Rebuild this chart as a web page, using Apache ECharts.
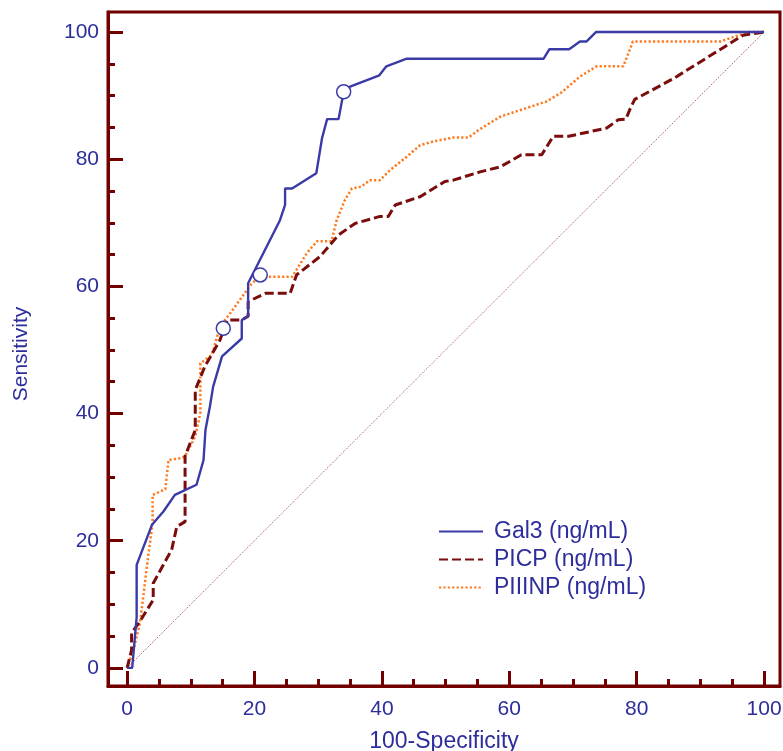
<!DOCTYPE html>
<html>
<head>
<meta charset="utf-8">
<script src="https://cdn.jsdelivr.net/npm/echarts@6/dist/echarts.min.js"></script>
<style>html,body{margin:0;padding:0;background:#fff}#c{width:783px;height:751px}</style>
</head>
<body>
<div id="c"></div>
<script>
// ---- data ----
const seriesNames = ['Gal3 (ng/mL)', 'PICP (ng/mL)', 'PIIINP (ng/mL)'];
const gal3 = [[0,0],[0.8,0],[1.5,8],[1.5,16.2],[3.9,22.5],[5.7,24.6],[7.5,27.2],[10.9,28.8],[12,32.7],[12.3,37.4],[13,41.1],[13.5,44.2],[14.9,49],[18,51.8],[18,54.7],[19,55.3],[19,60.5],[24,70.4],[24.8,72.8],[24.8,75.4],[25.9,75.4],[29.7,77.8],[30.6,83.3],[31.4,86.3],[33.2,86.3],[34,90.6],[35,91.4],[39.6,93.2],[40.7,94.6],[43.9,95.8],[65.4,95.8],[66.3,97.3],[69.4,97.3],[71.1,98.5],[72.1,98.5],[73.6,100],[100,100]];
const picp = [[0,0],[0.7,2.8],[0.7,5.5],[2,7.3],[4.1,10.7],[4.1,13.3],[7,18.6],[7.8,22.2],[9.1,23],[9.1,33.3],[10.7,37.4],[10.7,43.7],[12.2,47.4],[14.6,51.6],[15.7,54.7],[18,54.7],[19,55.3],[19,57.6],[21.7,58.9],[25.6,58.9],[26.6,61.8],[30.3,64.7],[33.2,68.1],[35.8,69.9],[39.7,71],[41,71],[42.1,72.8],[46,74.1],[49.9,76.5],[51.2,76.7],[55.4,78],[58.6,78.8],[61.9,80.7],[65.1,80.7],[66.9,83.6],[69.3,83.6],[75.3,84.9],[77.1,86.2],[78.3,86.3],[79,88],[79.7,89.4],[85.8,92.7],[96.7,99.5],[100,100]];
const piiinp = [[0,0],[1,2.8],[2,7],[2.6,11.7],[3.1,15.9],[4,22.8],[4,27.2],[6,28.1],[6.5,32.7],[8.6,33],[9.1,33.3],[10.7,36.4],[11.5,40.1],[11.5,47.9],[13.3,49.2],[14.6,53.7],[16.2,55.8],[18.8,59.4],[19.6,60.5],[20.9,61.5],[25.9,61.5],[28.2,65.2],[29.8,67.1],[32.1,67.1],[32.9,70.4],[34.2,73.6],[35.3,75.4],[36.8,75.7],[38.1,76.7],[39.7,76.7],[41.3,78.3],[43.9,80.4],[46,82.2],[48.1,82.8],[51.2,83.4],[53.6,83.4],[55.2,84.6],[58.6,86.7],[65.9,89.1],[68.2,90.5],[71.1,93],[73.7,94.6],[77.9,94.6],[79.4,98.5],[93.1,98.5],[97.5,100],[100,100]];
const diagonal = [[0,0],[100,100]];
const criterionPoints = [[15.1,53.4],[20.9,61.8],[34,90.6]];
const majorTicks = [0,20,40,60,80,100];
const minorTicks = [5,10,15,25,30,35,45,50,55,65,70,75,85,90,95];
const xTitle = '100-Specificity';
const yTitle = 'Sensitivity';

// ---- styling ----
const axisColor = '#730000';
const labelColor = '#2d2d9c';
const font = 'Liberation Sans, Arial, sans-serif';
const xMin = -3, xMax = 102.5, yMin = -2.85, yMax = 103.15;

function axisPair(dim) {
  const isX = dim === 'x';
  const base = {
    type: 'value', min: isX ? xMin : yMin, max: isX ? xMax : yMax,
    position: isX ? 'bottom' : 'left',
    splitLine: { show: false }
  };
  return [
    Object.assign({}, base, {
      name: isX ? xTitle : yTitle,
      nameLocation: 'middle',
      nameGap: isX ? 44 : 76,
      nameTextStyle: isX
        ? { color: labelColor, fontSize: 23, fontFamily: font }
        : { color: labelColor, fontSize: 21, fontFamily: font, padding: [0, 10, 0, 0] },
      axisLine: { show: true, onZero: false, lineStyle: { color: axisColor, width: 3 } },
      axisTick: { show: true, inside: true, length: 15, customValues: majorTicks, lineStyle: { color: axisColor, width: 3 } },
      axisLabel: { show: true, customValues: majorTicks, color: labelColor, fontSize: 21, fontFamily: font, margin: isX ? 13 : 9 }
    }),
    Object.assign({}, base, {
      axisLine: { show: false, onZero: false },
      axisTick: { show: true, inside: true, length: 7, customValues: minorTicks, lineStyle: { color: axisColor, width: 3 } },
      axisLabel: { show: false }
    })
  ];
}

const chart = echarts.init(document.getElementById('c'), null, { renderer: 'canvas' });
chart.setOption({
  animation: false,
  backgroundColor: '#fff',
  grid: { left: 108, right: 3, top: 12, bottom: 65, containLabel: false, outerBoundsMode: 'none',
    show: true, borderColor: axisColor, borderWidth: 3, backgroundColor: 'transparent' },
  xAxis: axisPair('x'),
  yAxis: axisPair('y'),
  legend: {
    data: seriesNames,
    orient: 'vertical', left: 433, top: 515,
    itemWidth: 44, itemHeight: 14, itemGap: 5,
    itemStyle: { opacity: 0 },
    textStyle: { color: labelColor, fontSize: 23, fontFamily: font, padding: [0,0,0,6] }
  },
  series: [
    { name: 'ref', type: 'line', data: diagonal, symbol: 'none', silent: true,
      lineStyle: { color: '#a85a5a', width: 1, type: [1.2, 1.3] } },
    { name: seriesNames[2], type: 'line', data: piiinp, symbol: 'none', color: '#ff7a1f',
      lineStyle: { color: '#ff7a1f', width: 2.5, type: [2.2, 2.2] } },
    { name: seriesNames[1], type: 'line', data: picp, symbol: 'none', color: '#7b0c0c',
      lineStyle: { color: '#7b0c0c', width: 3, type: [9, 4] } },
    { name: seriesNames[0], type: 'line', data: gal3, symbol: 'none', color: '#3b3ba8',
      lineStyle: { color: '#3b3ba8', width: 2.4 } },
    { name: 'criterion', type: 'scatter', data: criterionPoints, symbol: 'circle', symbolSize: 14, z: 5,
      itemStyle: { color: '#ffffff', opacity: 1, borderColor: '#3b3ba8', borderWidth: 1.5 } }
  ]
});
</script>
</body>
</html>
